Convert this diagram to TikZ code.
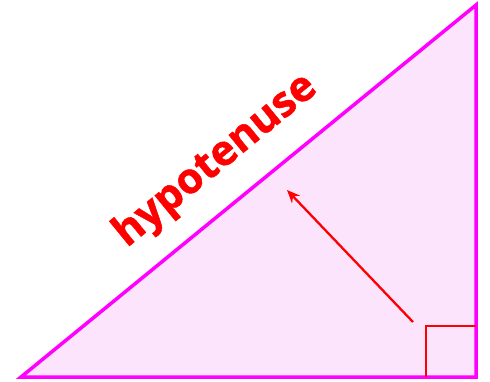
\documentclass[tikz,border=0pt]{standalone}
\usetikzlibrary{arrows.meta}
\usepackage{fontspec}
\setmainfont{Open Sans}
\newfontfamily\hypfont{Open Sans}[BoldFeatures={FakeBold=1.2}]
\definecolor{mag}{RGB}{255,0,255}
\definecolor{pinkfill}{RGB}{253,228,253}
\definecolor{myred}{RGB}{255,0,0}
\begin{document}
\begin{tikzpicture}[x=1pt,y=-1pt,
  tri/.style={draw=mag, line width=3.5pt, fill=pinkfill, line join=miter},
  redline/.style={draw=myred, line width=2.3pt},
  lbl/.style={text=myred, font=\hypfont\bfseries\fontsize{42}{42}\selectfont, rotate=39.3}]
\useasboundingbox (0,0) rectangle (490,381);
\coordinate (A) at (21,377);
\coordinate (B) at (476,377);
\coordinate (C) at (476,5);
\filldraw[tri] (A) -- (B) -- (C) -- cycle;
\coordinate (s1) at (426,377);
\coordinate (s2) at (426,326);
\coordinate (s3) at (476,326);
\draw[redline] (s1) -- (s2) -- (s3);
\coordinate (ar0) at (413,322);
\coordinate (ar1) at (287,190);
\draw[redline, -{Stealth[length=13pt,width=11pt]}] (ar0) -- (ar1);
\node[lbl] (hyp) at (216,161) {hypotenuse};
\end{tikzpicture}
\end{document}
